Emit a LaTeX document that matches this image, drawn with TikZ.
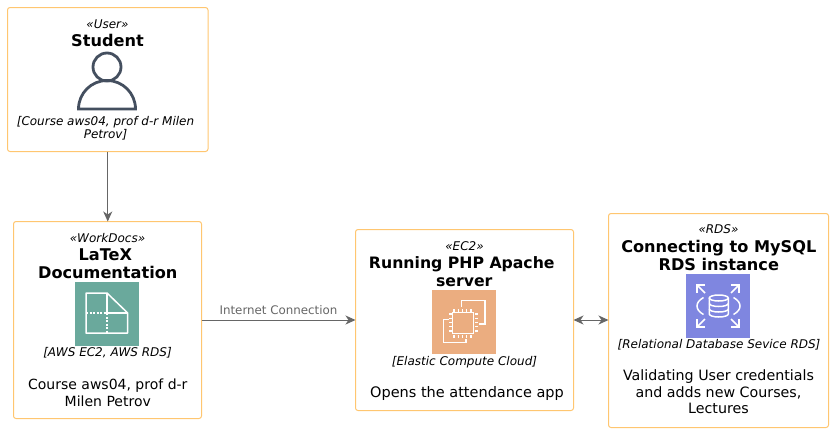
\documentclass[tikz,border=0pt]{standalone}
\usepackage{fontspec}
\setmainfont{DejaVu Sans}
\usetikzlibrary{arrows.meta}
\definecolor{boxline}{HTML}{FFC670}
\definecolor{connline}{HTML}{666666}
\definecolor{personline}{HTML}{444F5F}
\definecolor{docsfill}{HTML}{6AA99C}
\definecolor{ecfill}{HTML}{EBAD80}
\definecolor{rdsfill}{HTML}{7F86E0}
\tikzset{
	box/.style={draw=boxline, line width=1pt, rounded corners=2.5pt, inner sep=0pt, outer sep=0pt},
	icon/.style={inner sep=0pt, outer sep=0pt, minimum size=64pt},
	stereo/.style={anchor=base, inner sep=0pt, font=\fontsize{12}{14}\selectfont\itshape},
	title/.style={anchor=base, inner sep=0pt, align=center, font=\fontsize{16.15}{18}\selectfont\bfseries},
	tech/.style={anchor=base, inner sep=0pt, align=center, font=\fontsize{12}{13.5}\selectfont\itshape},
	descr/.style={anchor=base, inner sep=0pt, align=center, font=\fontsize{14.25}{16.5}\selectfont},
	conn/.style={connline, line width=0.9pt, -{Stealth[inset=3pt,length=10pt,width=9pt]}},
	connboth/.style={connline, line width=0.9pt, {Stealth[inset=3pt,length=10pt,width=9pt]}-{Stealth[inset=3pt,length=10pt,width=9pt]}},
	conntext/.style={inner sep=0pt, text=connline, font=\fontsize{11.85}{14}\selectfont},
	iconline/.style={white, line width=1.5pt}
}
\begin{document}
\begin{tikzpicture}[x=1pt, y=1pt]
	\useasboundingbox (0,0) rectangle (833,-432);
	% boxes
	\node [box, minimum width=200.5pt, minimum height=144pt] (student) at (107.75,-79.5) {};
	\node [box, minimum width=188pt, minimum height=197pt] (docs) at (107.5,-320) {};
	\node [box, minimum width=218pt, minimum height=181pt] (ec2) at (464.5,-320) {};
	\node [box, minimum width=220pt, minimum height=214pt] (rds) at (718.5,-320.5) {};
	% connectors
	\draw [conn] (student) -- (student |- docs.north);
	\draw [conn] (docs) -- (docs -| ec2.west) node [conntext, midway, above=5pt] (internet) {Internet Connection};
	\draw [connboth] (ec2) -- (ec2 -| rds.west);
	% student
	\node [stereo] (studentstereo) at (107.5,-28.3) {«User»};
	\node [title] (studenttitle) at (107.5,-46) {Student};
	\draw [personline, line width=2.8pt] (107,-67) circle (14);
	\draw [personline, line width=2.8pt, line join=miter] (78.5,-109) arc (180:0:28.5) -- cycle;
	\node [tech] (studenttech) at (105.5,-138.5) {[Course aws04, prof d-r Milen\\Petrov]};
	% docs
	\node [stereo] (docsstereo) at (107.5,-242.5) {«WorkDocs»};
	\node [title] (docstitle) at (107.8,-278) {LaTeX\kern5pt\\Documentation};
	\node [icon, fill=docsfill] (docsicon) at (107,-314) {};
	\draw [iconline, line join=round] (86,-293) -- (107,-293) -- (127.7,-313) -- (127.7,-333) -- (86,-333) -- cycle;
	\draw [iconline] (107,-293) -- (107,-313) -- (127.7,-313);
	\draw [iconline, dash pattern=on 2pt off 1.5pt] (86,-313) -- (107,-313) -- (107,-333);
	\node [tech] (docstech) at (107.5,-356.5) {[AWS EC2, AWS RDS]};
	\node [descr, font=\fontsize{14}{16.5}\selectfont] (docsdescr) at (107.8,-406) {Course aws04, prof d-r\\Milen Petrov};
	% ec2
	\node [stereo] (ecstereo) at (464.5,-250) {«EC2»};
	\node [title, font=\fontsize{15.7}{18}\selectfont\bfseries] (ectitle) at (464.3,-286.5) {Running PHP Apache\kern5pt\\server};
	\node [icon, fill=ecfill] (ecicon) at (464,-322) {};
	\draw [iconline] (452.5,-312.5) rectangle (473.5,-333.5);
	\draw [iconline, line width=3pt, dash pattern=on 1.5pt off 2.7pt] (453.3,-310) -- (473.5,-310);
	\draw [iconline, line width=3pt, dash pattern=on 1.5pt off 2.7pt] (453.3,-336) -- (473.5,-336);
	\draw [iconline, line width=3pt, dash pattern=on 1.5pt off 2.7pt] (450,-313.3) -- (450,-333.5);
	\draw [iconline, line width=3pt, dash pattern=on 1.5pt off 2.7pt] (476,-313.3) -- (476,-333.5);
	\draw [iconline] (461.7,-306.5) -- (461.7,-300.7) -- (485,-300.7) -- (485,-324) -- (479,-324);
	\draw [iconline] (448.5,-319.3) -- (443.3,-319.3) -- (443.3,-342.3) -- (466,-342.3) -- (466,-338.5);
	\node [tech] (ectech) at (464.5,-365.5) {[Elastic Compute Cloud]};
	\node [descr, font=\fontsize{14.5}{16.5}\selectfont] (ecdescr) at (467,-397.2) {Opens the attendance app};
	% rds
	\node [stereo] (rdsstereo) at (718.5,-233.5) {«RDS»};
	\node [title] (rdstitle) at (718.8,-270) {Connecting to MySQL\\RDS instance};
	\node [icon, fill=rdsfill] (rdsicon) at (718,-306) {};
	\draw [iconline] (709.3,-298) -- (709.3,-314) arc (180:360:9.5 and 3) -- (728.3,-298);
	\draw [iconline] (718.8,-298) ellipse (9.5 and 3);
	\draw [iconline] (709.3,-303.5) arc (180:360:9.5 and 3);
	\draw [iconline] (709.3,-309) arc (180:360:9.5 and 3);
	\draw [iconline] (703.5,-297.5) .. controls (699,-300) and (697,-303) .. (697,-306) .. controls (697,-309) and (699,-312) .. (703.5,-314.5);
	\draw [iconline] (733.5,-297.5) .. controls (738,-300) and (740,-303) .. (740,-306) .. controls (740,-309) and (738,-312) .. (733.5,-314.5);
	\draw [iconline] (705,-293) -- (697,-285);
	\draw [iconline] (697,-293) -- (697,-285) -- (705,-285);
	\draw [iconline] (731,-293) -- (739,-285);
	\draw [iconline] (739,-293) -- (739,-285) -- (731,-285);
	\draw [iconline] (705,-319) -- (697,-327);
	\draw [iconline] (697,-319) -- (697,-327) -- (705,-327);
	\draw [iconline] (731,-319) -- (739,-327);
	\draw [iconline] (739,-319) -- (739,-327) -- (731,-327);
	\node [tech] (rdstech) at (719,-348.8) {[Relational Database Sevice RDS]};
	\node [descr] (rdsdescr) at (718.5,-413.8) {Validating User credentials\\and adds new Courses,\\Lectures};
\end{tikzpicture}
\end{document}
